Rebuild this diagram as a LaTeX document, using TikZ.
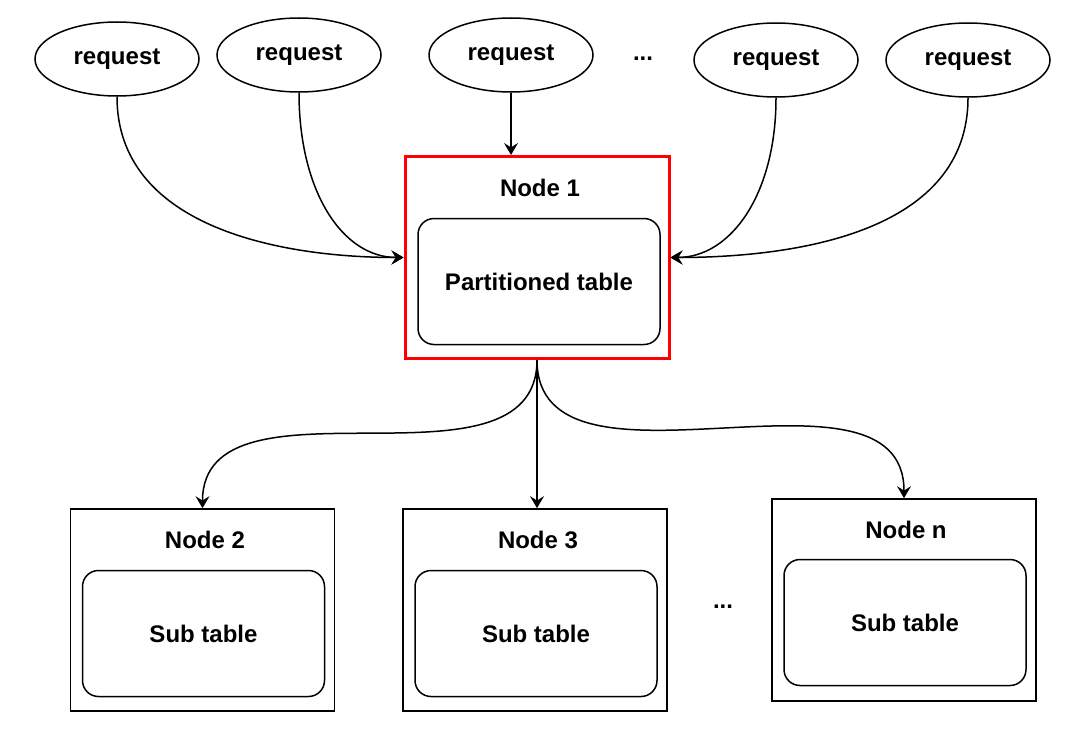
\documentclass[tikz,border=0pt]{standalone}
\usepackage{fontspec}
\setmainfont{Liberation Sans}
\usetikzlibrary{shapes.geometric,arrows.meta}
\tikzstyle{request}=[ellipse,draw,line width=0.75pt,minimum width=82pt,minimum height=37pt,inner sep=0pt,font=\fontsize{12}{14}\selectfont\bfseries]
\tikzstyle{server}=[draw,line width=0.85pt,minimum width=132pt,minimum height=101pt,inner sep=0pt]
\tikzstyle{tablebox}=[draw,rounded corners=8pt,line width=0.75pt,minimum width=121pt,minimum height=63pt,inner sep=0pt,font=\fontsize{12}{14}\selectfont\bfseries]
\tikzstyle{nodetitle}=[inner sep=0pt,font=\fontsize{12}{14}\selectfont\bfseries]
\tikzstyle{flow}=[-{Stealth[length=6pt,width=7pt,inset=2.2pt]},line width=0.75pt]

\begin{document}
\begin{tikzpicture}[x=0.5pt,y=0.5pt]
\useasboundingbox (0,0) rectangle (1080,741);
% requests
\node[request] at (117, 682) (r1) {request};
\node[request] at (299, 686) (r2) {request};
\node[request] at (511, 686) (r3) {request};
\node[nodetitle] at (643, 682) (rdots) {...};
\node[request] at (776, 681) (r4) {request};
\node[request] at (968, 681) (r5) {request};
% node 1
\node[server,draw=red,line width=1.5pt] at (537, 483.5) (n1) {};
\node[nodetitle] at (540, 553) (t1) {Node 1};
\node[tablebox] at (539, 459.5) (p1) {Partitioned table};
% nodes 2, 3, n
\node[server] at (202.5, 131) (n2) {};
\node[nodetitle] at (205, 201) (t2) {Node 2};
\node[tablebox] at (203.5, 107.5) (s2) {Sub table};
\node[server] at (535, 131) (n3) {};
\node[nodetitle] at (538, 201) (t3) {Node 3};
\node[tablebox] at (536, 107.5) (s3) {Sub table};
\node[nodetitle] at (723, 134) (ndots) {...};
\node[server] at (904, 141) (nn) {};
\node[nodetitle] at (906, 211) (tn) {Node n};
\node[tablebox] at (905, 118.5) (sn) {Sub table};
% incoming
\draw[flow] (r1.south) to[out=-90,in=180] (n1.west);
\draw[flow] (r2.south) to[out=-90,in=180,out looseness=1.3,in looseness=0.8] (n1.west);
\draw[flow] (r3.south) -- (r3.south |- n1.north);
\draw[flow] (r4.south) to[out=-90,in=0,out looseness=1.3,in looseness=0.8] (n1.east);
\draw[flow] (r5.south) to[out=-90,in=0] (n1.east);
% outgoing
\draw[flow] (n1.south) to[out=-90,in=90] (n2.north);
\draw[flow] (n1.south) -- (n1.south |- n3.north);
\draw[flow] (n1.south) to[out=-90,in=90] (nn.north);
\end{tikzpicture}
\end{document}
